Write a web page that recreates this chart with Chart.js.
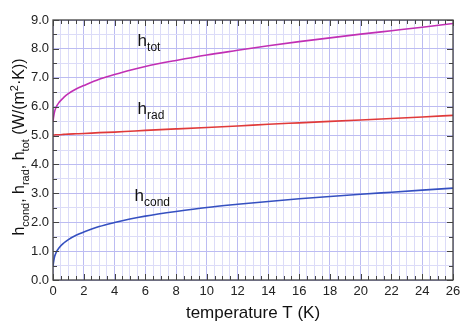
<!DOCTYPE html>
<html>
<head>
<meta charset="utf-8">
<script src="https://cdn.jsdelivr.net/npm/chart.js@4.4.0/dist/chart.umd.min.js"></script>
<style>
  html, body { margin: 0; padding: 0; background: #fff; }
  #wrap { width: 474px; height: 334px; }
</style>
</head>
<body>
<div id="wrap"><canvas id="myChart" width="474" height="334"></canvas></div>
<script>
// temperature points (K)
const temps = [0, 0.05, 0.1, 0.2, 0.4, 0.7, 1, 1.5, 2, 3, 4, 5, 6, 8, 10, 12, 14, 16, 18, 20, 22, 24, 26];
// values, W/(m^2 K)
const hCond = [0.48, 0.66, 0.80, 0.95, 1.12, 1.28, 1.40, 1.55, 1.66, 1.85, 1.99, 2.11, 2.21, 2.37, 2.51, 2.62, 2.72, 2.81, 2.89, 2.97, 3.04, 3.11, 3.18];
const hRad = [5.02, 5.02, 5.02, 5.03, 5.03, 5.04, 5.05, 5.06, 5.07, 5.10, 5.12, 5.15, 5.18, 5.23, 5.28, 5.33, 5.39, 5.44, 5.49, 5.54, 5.59, 5.64, 5.70];
const hTot = [5.50, 5.68, 5.82, 5.98, 6.15, 6.32, 6.45, 6.61, 6.73, 6.95, 7.11, 7.26, 7.39, 7.60, 7.79, 7.95, 8.11, 8.25, 8.38, 8.51, 8.63, 8.75, 8.88];

const xTicks = [0, 2, 4, 6, 8, 10, 12, 14, 16, 18, 20, 22, 24, 26];
const yTicks = [0, 1, 2, 3, 4, 5, 6, 7, 8, 9];

// curve labels: [main, subscript, T, h]
const curveLabels = [
    ['h', 'tot', 5.5, 8.1],
    ['h', 'rad', 5.5, 5.75],
    ['h', 'cond', 5.3, 2.75]
];

const fontFam = '"Liberation Sans", Arial, Helvetica, sans-serif';

function toPts(ys) {
    return temps.map((t, i) => ({ x: t, y: ys[i] }));
}

function isMajor(v, step) {
    return Math.abs(v / step - Math.round(v / step)) < 1e-6;
}

// draw text with sub/superscripts, parts: [text, kind] kind 0 normal, -1 sub, 1 sup
function drawRich(ctx, parts, x, y, size, align) {
    const small = Math.round(size * 0.7);
    let total = 0;
    parts.forEach(p => {
        ctx.font = (p[1] === 0 ? size : small) + 'px ' + fontFam;
        total += ctx.measureText(p[0]).width;
    });
    let cx = align === 'center' ? x - total / 2 : x;
    parts.forEach(p => {
        ctx.font = (p[1] === 0 ? size : small) + 'px ' + fontFam;
        let dy = 0;
        if (p[1] === -1) dy = size * 0.3;
        if (p[1] === 1) dy = -size * 0.38;
        ctx.fillText(p[0], cx, y + dy);
        cx += ctx.measureText(p[0]).width;
    });
}

const framePlugin = {
    id: 'framePlugin',
    afterDraw(chart) {
        const ctx = chart.ctx;
        const xs = chart.scales.x;
        const ys = chart.scales.y;
        const a = chart.chartArea;
        ctx.save();
        ctx.strokeStyle = '#444';
        ctx.lineWidth = 1.3;
        ctx.strokeRect(a.left, a.top, a.right - a.left, a.bottom - a.top);
        ctx.lineWidth = 1;
        ctx.beginPath();
        for (let v = 0; v <= 26.001; v += 0.5) {
            const px = Math.round(xs.getPixelForValue(v)) + 0.5;
            const len = isMajor(v, 2) ? 6 : 4;
            ctx.moveTo(px, a.bottom); ctx.lineTo(px, a.bottom - len);
            ctx.moveTo(px, a.top); ctx.lineTo(px, a.top + len);
        }
        for (let v = 0; v <= 9.001; v += 0.5) {
            const py = Math.round(ys.getPixelForValue(v)) + 0.5;
            const len = isMajor(v, 1) ? 6 : 4;
            ctx.moveTo(a.left, py); ctx.lineTo(a.left + len, py);
            ctx.moveTo(a.right, py); ctx.lineTo(a.right - len, py);
        }
        ctx.stroke();

        // curve labels
        ctx.fillStyle = '#111';
        ctx.textBaseline = 'alphabetic';
        curveLabels.forEach(l => {
            drawRich(ctx, [[l[0], 0], [l[1], -1]], xs.getPixelForValue(l[2]), ys.getPixelForValue(l[3]), 17, 'left');
        });

        // axis titles
        ctx.fillStyle = '#111';
        drawRich(ctx, [['temperature T (K)', 0]], (a.left + a.right) / 2, 318, 17, 'center');
        ctx.translate(24, (a.top + a.bottom) / 2 - 3);
        ctx.rotate(-Math.PI / 2);
        drawRich(ctx, [['h', 0], ['cond', -1], [', h', 0], ['rad', -1], [', h', 0], ['tot', -1],
            [' (W/(m', 0], ['2', 1], ['·K))', 0]], 0, 0, 16, 'center');
        ctx.restore();
    }
};

const config = {
    type: 'line',
    data: {
        datasets: [
            { label: 'h_tot', data: toPts(hTot), borderColor: '#c12fb4', borderWidth: 1.6 },
            { label: 'h_rad', data: toPts(hRad), borderColor: '#e03a3a', borderWidth: 1.6 },
            { label: 'h_cond', data: toPts(hCond), borderColor: '#3550c0', borderWidth: 1.6 }
        ]
    },
    options: {
        responsive: false,
        animation: false,
        events: [],
        layout: { padding: { left: 0, top: 20, right: 21, bottom: 0 } },
        elements: {
            point: { radius: 0 },
            line: { cubicInterpolationMode: 'monotone', fill: false }
        },
        plugins: { legend: { display: false }, tooltip: { enabled: false } },
        scales: {
            x: {
                type: 'linear', min: 0, max: 26,
                afterFit(s) { s.height = 54; },
                afterBuildTicks(s) {
                    const t = [];
                    for (let v = 0; v <= 26.001; v += 0.5) t.push({ value: v });
                    s.ticks = t;
                },
                border: { display: false },
                grid: {
                    drawTicks: false,
                    lineWidth: 1,
                    color: c => isMajor(c.tick.value, 2) ? 'rgb(188,188,242)' : 'rgb(220,220,248)'
                },
                ticks: {
                    autoSkip: false, maxRotation: 0, padding: 4,
                    color: '#222', font: { size: 13, family: fontFam },
                    callback: v => xTicks.includes(v) ? String(v) : ''
                }
            },
            y: {
                type: 'linear', min: 0, max: 9,
                afterFit(s) { s.width = 53; },
                afterBuildTicks(s) {
                    const t = [];
                    for (let v = 0; v <= 9.001; v += 0.5) t.push({ value: v });
                    s.ticks = t;
                },
                border: { display: false },
                grid: {
                    drawTicks: false,
                    lineWidth: 1,
                    color: c => isMajor(c.tick.value, 1) ? 'rgb(188,188,242)' : 'rgb(220,220,248)'
                },
                ticks: {
                    autoSkip: false, padding: 4,
                    color: '#222', font: { size: 13, family: fontFam },
                    callback: v => yTicks.includes(v) ? v.toFixed(1) : ''
                }
            }
        }
    },
    plugins: [framePlugin]
};

const myChart = new Chart(document.getElementById('myChart'), config);
</script>
</body>
</html>
